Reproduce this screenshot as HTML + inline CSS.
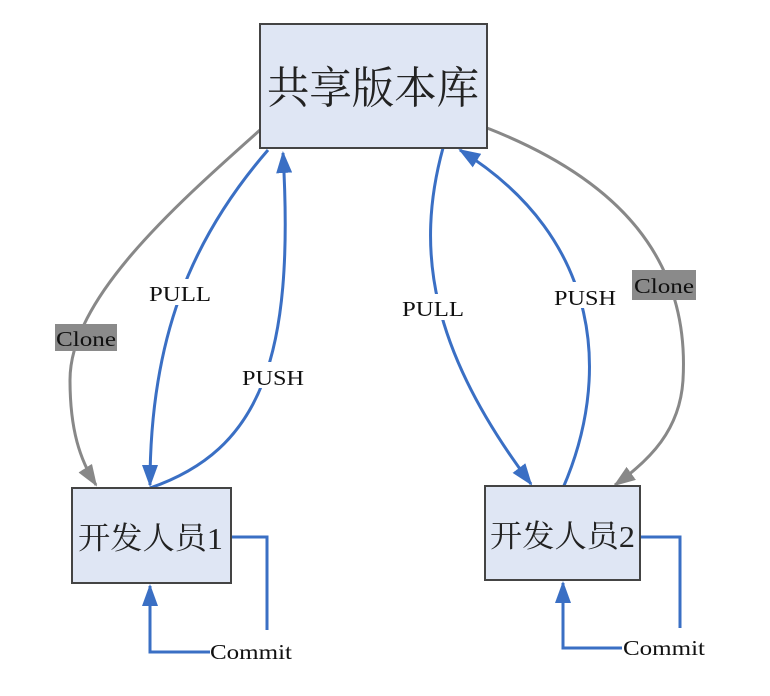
<!DOCTYPE html>
<html><head><meta charset="utf-8"><style>
html,body{margin:0;padding:0;background:#fff;}
svg{display:block;}
.cjk{font-family:"Liberation Serif","Noto Serif CJK SC",serif;fill:#222;}
.lbl{font-family:"Liberation Serif",serif;font-size:21px;fill:#111;}
</style></head><body>
<svg width="770" height="696" viewBox="0 0 770 696" xmlns="http://www.w3.org/2000/svg">
<defs>
<marker id="abig" markerWidth="22" markerHeight="16" refX="20" refY="8" orient="auto" markerUnits="userSpaceOnUse"><path d="M0,0 L22,8 L0,16 z" fill="#3a6fc4"/></marker>
<marker id="ag" markerWidth="22" markerHeight="16" refX="20" refY="8" orient="auto" markerUnits="userSpaceOnUse"><path d="M0,0 L22,8 L0,16 z" fill="#888"/></marker>
</defs>
<path d="M260,130 C170,210 70,300 70,380 C70,430 80,460 96,485" fill="none" stroke="#888" stroke-width="3" marker-end="url(#ag)"/>
<path d="M487,128 C620,180 690,260 683,380 C680,430 650,460 615,485" fill="none" stroke="#888" stroke-width="3" marker-end="url(#ag)"/>
<path d="M268,150 C190,240 150,340 150,485" fill="none" stroke="#3a6fc4" stroke-width="3" marker-end="url(#abig)"/>
<path d="M150,488 C260,450 295,360 283,153" fill="none" stroke="#3a6fc4" stroke-width="3" marker-end="url(#abig)"/>
<path d="M443,148 C415,250 430,350 531,484" fill="none" stroke="#3a6fc4" stroke-width="3" marker-end="url(#abig)"/>
<path d="M563,488 C610,380 605,240 460,150" fill="none" stroke="#3a6fc4" stroke-width="3" marker-end="url(#abig)"/>
<path d="M231,537 L267,537 L267,630" fill="none" stroke="#3a6fc4" stroke-width="3"/>
<path d="M210,652 L150,652 L150,586" fill="none" stroke="#3a6fc4" stroke-width="3" marker-end="url(#abig)"/>
<path d="M640,537 L680,537 L680,628" fill="none" stroke="#3a6fc4" stroke-width="3"/>
<path d="M622,648 L563,648 L563,583" fill="none" stroke="#3a6fc4" stroke-width="3" marker-end="url(#abig)"/>
<rect x="260" y="24" width="227" height="124" fill="#dfe6f4" stroke="#444" stroke-width="2"/>
<text class="cjk" x="267" y="103" font-size="44" textLength="212" lengthAdjust="spacingAndGlyphs">共享版本库</text>
<rect x="72" y="488" width="159" height="95" fill="#dfe6f4" stroke="#444" stroke-width="2"/>
<text class="cjk" x="78" y="549" font-size="31" textLength="145" lengthAdjust="spacingAndGlyphs">开发人员1</text>
<rect x="485" y="486" width="155" height="94" fill="#dfe6f4" stroke="#444" stroke-width="2"/>
<text class="cjk" x="490" y="547" font-size="31" textLength="145" lengthAdjust="spacingAndGlyphs">开发人员2</text>
<rect x="146" y="279" width="68" height="26" fill="#fff"/>
<text class="lbl" x="149" y="301" textLength="62" lengthAdjust="spacingAndGlyphs">PULL</text>
<rect x="238" y="362" width="72" height="26" fill="#fff"/>
<text class="lbl" x="242" y="385" textLength="62" lengthAdjust="spacingAndGlyphs">PUSH</text>
<rect x="400" y="294" width="68" height="26" fill="#fff"/>
<text class="lbl" x="402" y="316" textLength="62" lengthAdjust="spacingAndGlyphs">PULL</text>
<rect x="550" y="282" width="72" height="26" fill="#fff"/>
<text class="lbl" x="554" y="305" textLength="62" lengthAdjust="spacingAndGlyphs">PUSH</text>
<rect x="55" y="324" width="62" height="27" fill="#8a8a8a"/>
<text class="lbl" x="56" y="346" textLength="60" lengthAdjust="spacingAndGlyphs">Clone</text>
<rect x="632" y="270" width="64" height="30" fill="#8a8a8a"/>
<text class="lbl" x="634" y="293" textLength="60" lengthAdjust="spacingAndGlyphs">Clone</text>
<text class="lbl" x="210" y="659" textLength="82" lengthAdjust="spacingAndGlyphs">Commit</text>
<text class="lbl" x="623" y="655" textLength="82" lengthAdjust="spacingAndGlyphs">Commit</text>
</svg>
</body></html>
